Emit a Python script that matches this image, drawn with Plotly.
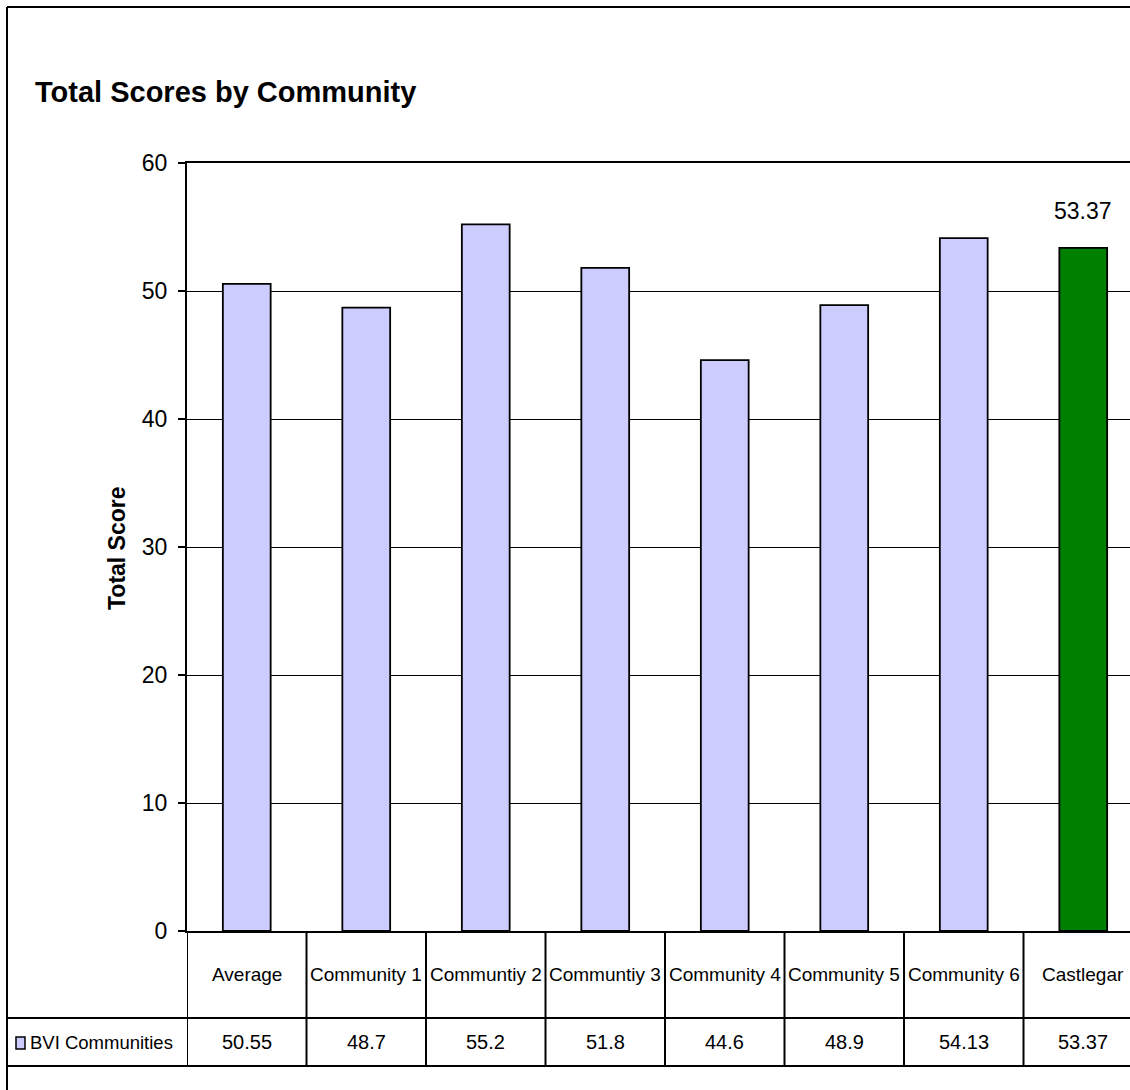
import plotly.graph_objects as go

# ---- data -------------------------------------------------------------
categories = ["Average", "Community 1", "Communtiy 2", "Communtiy 3",
              "Community 4", "Community 5", "Community 6", "Castlegar"]
scores = [50.55, 48.7, 55.2, 51.8, 44.6, 48.9, 54.13, 53.37]
series_name = "BVI Communities"
y_ticks = [0, 10, 20, 30, 40, 50, 60]

# ---- page geometry (pixels) --------------------------------------------
W, H = 1130, 1090
LEFT, TOP, BOTTOM = 187, 163, 931      # plot area edges
CELL_W = 119.5                          # width of one category column
ROW1_BOT, ROW2_BOT = 1018, 1066         # data-table row bottoms
FRAME = 7                               # outer chart frame offset

plot_w = W - LEFT
plot_h = BOTTOM - TOP


def px(x):
    return (x - LEFT) / plot_w


def py(y):
    return (BOTTOM - y) / plot_h


FONT = "Liberation Sans, Arial, sans-serif"
BASE = "#CCCCFF"
HIGHLIGHT = "#008000"
colors = [BASE] * (len(categories) - 1) + [HIGHLIGHT]
xs = list(range(len(categories)))

fig = go.Figure()
fig.add_trace(go.Bar(
    x=xs, y=scores, width=0.4,
    marker=dict(color=colors, line=dict(color="black", width=1.8)),
    name=series_name, showlegend=False, hoverinfo="y",
))

shapes = []
# data-table column dividers
for k in range(len(categories) + 1):
    shapes.append(dict(type="line", xref="x", yref="paper",
                       x0=k - 0.5, x1=k - 0.5, y0=py(ROW2_BOT), y1=0,
                       line=dict(color="black", width=2)))
# data-table row lines
for yy in (ROW1_BOT, ROW2_BOT):
    shapes.append(dict(type="line", xref="paper", yref="paper",
                       x0=px(FRAME), x1=1.01, y0=py(yy), y1=py(yy),
                       line=dict(color="black", width=2)))
# outer chart frame (left and top edges)
shapes.append(dict(type="line", xref="paper", yref="paper",
                   x0=px(FRAME), x1=px(FRAME), y0=py(FRAME), y1=py(H + 10),
                   line=dict(color="black", width=2)))
shapes.append(dict(type="line", xref="paper", yref="paper",
                   x0=px(FRAME), x1=px(W + 10), y0=py(FRAME), y1=py(FRAME),
                   line=dict(color="black", width=2)))
# legend key in the table
shapes.append(dict(type="rect", xref="paper", yref="paper",
                   x0=px(16), x1=px(25), y0=py(1049), y1=py(1037),
                   fillcolor=BASE, line=dict(color="black", width=1.5)))

annotations = []
row1_mid = (BOTTOM + ROW1_BOT) / 2
row2_mid = (ROW1_BOT + ROW2_BOT) / 2
for i, (cat, val) in enumerate(zip(categories, scores)):
    annotations.append(dict(x=i, y=py(row1_mid), xref="x", yref="paper",
                            xanchor="center", yanchor="middle",
                            text=cat, showarrow=False,
                            font=dict(size=19, color="black", family=FONT)))
    annotations.append(dict(x=i, y=py(row2_mid), xref="x", yref="paper",
                            xanchor="center", yanchor="middle",
                            text=f"{val:g}", showarrow=False,
                            font=dict(size=20, color="black", family=FONT)))
annotations.append(dict(x=px(28), y=py(row2_mid), xref="paper", yref="paper",
                        xanchor="left", yanchor="middle",
                        text=series_name, showarrow=False,
                        font=dict(size=18.5, color="black", family=FONT)))
# value label on the highlighted bar
annotations.append(dict(x=xs[-1], y=scores[-1], xref="x", yref="y",
                        xanchor="center", yanchor="bottom", yshift=22,
                        text=f"{scores[-1]:g}", showarrow=False,
                        font=dict(size=23, color="black", family=FONT)))
# y-axis title
annotations.append(dict(x=px(117), y=py(548), xref="paper", yref="paper",
                        xanchor="center", yanchor="middle",
                        text="<b>Total Score</b>", textangle=-90,
                        showarrow=False,
                        font=dict(size=23, color="black", family=FONT)))

fig.update_layout(
    width=W, height=H,
    margin=dict(l=LEFT, r=0, t=TOP, b=H - BOTTOM, pad=0),
    paper_bgcolor="white", plot_bgcolor="white",
    title=dict(text="<b>Total Scores by Community</b>",
               x=35 / W, xanchor="left", xref="container",
               y=1 - 92 / H, yanchor="middle", yref="container",
               font=dict(size=29, color="black", family=FONT)),
    xaxis=dict(range=[-0.5, -0.5 + plot_w / CELL_W],
               showticklabels=False, ticks="", showgrid=False,
               zeroline=False, showline=True, linecolor="black",
               linewidth=2, mirror=True, fixedrange=True),
    yaxis=dict(range=[0, 60], tickvals=y_ticks, ticks="outside",
               ticklen=7, tickwidth=1.5, tickcolor="black",
               ticklabelstandoff=6,
               tickfont=dict(size=23, color="black", family=FONT),
               showgrid=True, gridcolor="black", gridwidth=1,
               zeroline=False, showline=True, linecolor="black",
               linewidth=2, fixedrange=True),
    shapes=shapes,
    annotations=annotations,
    bargap=0.6,
)

fig.write_html("out.html")
